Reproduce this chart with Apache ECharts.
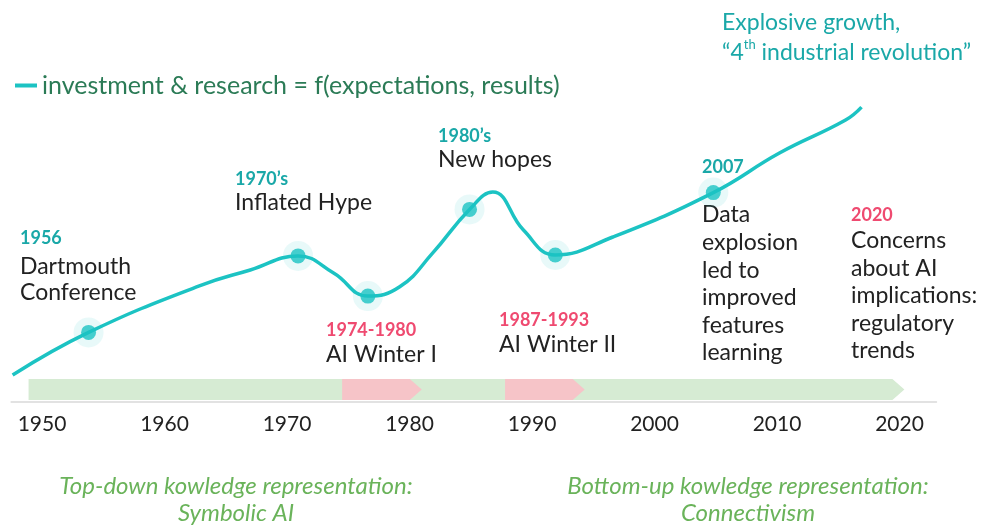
<!DOCTYPE html>
<html>
<head>
<meta charset="utf-8">
<script src="https://cdn.jsdelivr.net/npm/echarts@6/dist/echarts.min.js"></script>
<style>
  html, body { margin: 0; padding: 0; background: #fff; }
  #chart { width: 982px; height: 527px; }
</style>
</head>
<body>
<div id="chart"></div>
<script>
// curve of investment & research, position along the timeline
const years = [1947.6, 1953.8, 1962.9, 1967.0, 1970.9, 1973.8, 1976.6, 1979.2, 1981.9,
  1984.9, 1986.8, 1989.3, 1991.9, 1996.6, 2004.8, 2010.2, 2015.6, 2016.9]
const values = [9.0, 23.2, 38.8, 44.0, 48.7, 43.0, 35.3, 38.4, 49.7,
  64.2, 70.0, 57.3, 49.0, 55.0, 69.8, 83.0, 94.0, 98.3]
// which curve points carry a milestone dot
const markerIndex = [1, 4, 6, 9, 12, 14]

const tickYears = [1950, 1960, 1970, 1980, 1990, 2000, 2010, 2020]
const eraBand = [1948.9, 2020.4]
const winterStart = [1974.5, 1987.8]
const winterEnd = [1981.0, 1994.3]

const seriesName = 'investment & research = f(expectations, results)'

const TEAL = '#1cc3c3'
const TEAL_TEXT = '#1aa8a8'
const PINK = '#ef4a70'
const DARK = '#222'
const GREEN_TEXT = '#6ab35a'

const chart = echarts.init(document.getElementById('chart'))

const arrowShape = (api, x0, x1, color) => {
  const a = api.coord([x0, 0])
  const b = api.coord([x1, 0])
  const top = a[1] - 23
  const bottom = a[1] - 2
  const mid = (top + bottom) / 2
  const tip = 12
  return {
    type: 'polygon',
    shape: {
      points: [[a[0], top], [b[0] - tip, top], [b[0], mid], [b[0] - tip, bottom], [a[0], bottom]]
    },
    style: { fill: color }
  }
}

const bandData = [[eraBand[0], eraBand[1], 0]]
winterStart.forEach((s, i) => bandData.push([s, winterEnd[i], 1]))

// head: small bold year line, body: first line centred at bodyY
const textBlock = (x, headY, bodyY, head, headColor, body, lh = 27) => [
  {
    type: 'text', x: x, y: headY,
    style: { text: head, fill: headColor, font: 'bold 18px Lato', verticalAlign: 'middle' }
  },
  {
    type: 'text', x: x, y: bodyY - lh / 2,
    style: { text: body, fill: DARK, font: '23px Lato', lineHeight: lh, verticalAlign: 'top' }
  }
]

chart.setOption({
  animation: false,
  grid: { left: 11.4, right: 45.75, top: 102, bottom: 125 },
  legend: {
    data: [seriesName],
    left: 10,
    top: 68,
    icon: 'rect',
    itemWidth: 22,
    itemHeight: 4,
    itemGap: 10,
    textStyle: { fontSize: 25, color: '#2b7b56', fontFamily: 'Lato' }
  },
  xAxis: {
    type: 'value',
    min: 1947.5,
    max: 2023,
    splitLine: { show: false },
    axisTick: { show: false },
    axisLine: { lineStyle: { color: '#e2e2e2', width: 2 } },
    axisLabel: {
      customValues: tickYears,
      formatter: v => String(v),
      margin: 12,
      fontSize: 21,
      color: DARK,
      fontFamily: 'Lato'
    }
  },
  yAxis: { type: 'value', min: 0, max: 100, show: false },
  series: [
    {
      type: 'custom',
      renderItem: (params, api) => {
        const kind = api.value(2)
        return arrowShape(api, api.value(0), api.value(1), kind ? '#f6c4c8' : '#d6ebd3')
      },
      encode: { x: [0, 1] },
      data: bandData,
      z: 1
    },
    {
      name: seriesName,
      type: 'line',
      smooth: 0.45,
      showSymbol: false,
      lineStyle: { color: TEAL, width: 3.5 },
      itemStyle: { color: TEAL },
      data: years.map((y, i) => [y, values[i]]),
      z: 3
    },
    {
      type: 'scatter',
      symbolSize: 30,
      itemStyle: { color: 'rgba(28,195,195,0.13)' },
      data: markerIndex.map(i => [years[i], values[i]]),
      z: 2
    },
    {
      type: 'scatter',
      symbolSize: 15,
      itemStyle: { color: TEAL },
      data: markerIndex.map(i => [years[i], values[i]]),
      z: 4
    }
  ],
  graphic: [
    ...textBlock(20, 238, 267, '1956', TEAL_TEXT, 'Dartmouth\nConference', 26),
    ...textBlock(235, 179, 203, '1970\u2019s', TEAL_TEXT, 'Inflated Hype'),
    ...textBlock(326, 330, 355, '1974-1980', PINK, 'AI Winter I'),
    ...textBlock(438, 136, 160, '1980\u2019s', TEAL_TEXT, 'New hopes'),
    ...textBlock(499, 320, 345, '1987-1993', PINK, 'AI Winter II'),
    ...textBlock(702, 167, 215, '2007', TEAL_TEXT, 'Data\nexplosion\nled to\nimproved\nfeatures\nlearning', 27.6),
    ...textBlock(851, 215, 241, '2020', PINK, 'Concerns\nabout AI\nimplications:\nregulatory\ntrends', 27.4),
    {
      type: 'text', x: 722, y: 8,
      style: {
        text: 'Explosive growth,\n\u201c4{sup|th} industrial revolution\u201d',
        fill: TEAL_TEXT, font: '23px Lato', lineHeight: 30,
        rich: { sup: { fontSize: 13, verticalAlign: 'top', fill: TEAL_TEXT, fontFamily: 'Lato', lineHeight: 22 } }
      }
    },
    {
      type: 'text', x: 236, y: 473,
      style: {
        text: 'Top-down kowledge representation:\nSymbolic AI', align: 'center',
        fill: GREEN_TEXT, font: 'italic 24px Lato', lineHeight: 27
      }
    },
    {
      type: 'text', x: 748, y: 473,
      style: {
        text: 'Bottom-up kowledge representation:\nConnectivism', align: 'center',
        fill: GREEN_TEXT, font: 'italic 24px Lato', lineHeight: 27
      }
    }
  ]
})
</script>
</body>
</html>
